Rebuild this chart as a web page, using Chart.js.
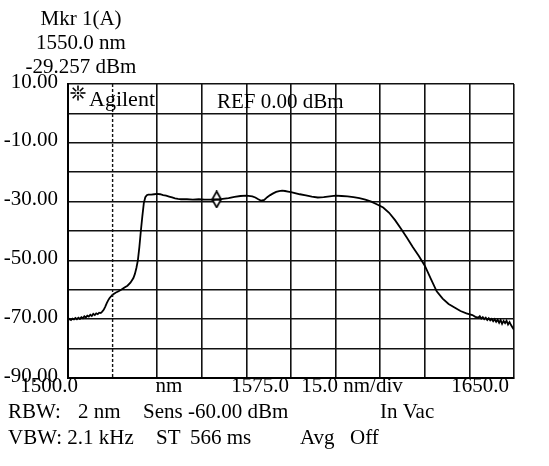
<!DOCTYPE html>
<html>
<head>
<meta charset="utf-8">
<script src="https://cdn.jsdelivr.net/npm/chart.js@4.4.1/dist/chart.umd.min.js"></script>
<style>
  body { margin: 0; background: #fff; }
  #wrap { width: 549px; height: 466px; }
</style>
</head>
<body>
<div id="wrap"><canvas id="osa" width="549" height="466"></canvas></div>
<script>
// trace (nm, dBm)
const wavelengthNm = [
  1500, 1500.5, 1501, 1501.5, 1502, 1502.5, 1503, 1503.5, 1504, 1504.5,
  1505, 1505.5, 1506, 1506.5, 1507, 1507.5, 1508, 1508.5, 1509, 1509.5,
  1510, 1510.5, 1511, 1511.5, 1512, 1512.5, 1513, 1513.5, 1514, 1514.5,
  1515, 1516, 1517, 1518, 1519, 1520, 1521, 1522, 1522.5, 1523,
  1523.5, 1524, 1524.5, 1525, 1525.5, 1526, 1526.5, 1527, 1528, 1529,
  1530, 1531, 1532, 1533, 1534, 1535, 1536, 1537, 1538, 1540,
  1542, 1544, 1546, 1548, 1549, 1550, 1551, 1552, 1554, 1556,
  1558, 1560, 1562, 1563, 1564, 1565, 1566, 1567, 1568, 1569,
  1570, 1571, 1572, 1573, 1574, 1575, 1576, 1578, 1580, 1582,
  1584, 1586, 1588, 1590, 1592, 1594, 1596, 1598, 1600, 1602,
  1604, 1606, 1608, 1610, 1612, 1614, 1616, 1618, 1620, 1622,
  1624, 1626, 1628, 1630, 1632, 1634, 1636, 1637, 1638, 1638.5,
  1639, 1639.5, 1640, 1640.5, 1641, 1641.5, 1642, 1642.5, 1643, 1643.5,
  1644, 1644.5, 1645, 1645.5, 1646, 1646.5, 1647, 1647.5, 1648, 1648.5,
  1649, 1649.5, 1650
];
const powerDbm = [
  -70.4, -69.9, -70.3, -69.8, -70.1, -69.6, -70.0, -69.5, -69.9, -69.3,
  -69.7, -69.0, -69.4, -68.8, -69.1, -68.5, -68.9, -68.2, -68.6, -68.0,
  -68.3, -67.8, -67.9, -67.4, -66.8, -65.8, -64.6, -63.6, -62.8, -62.2,
  -61.7, -61.0, -60.5, -59.9, -59.2, -58.6, -57.6, -56.0, -54.6, -52.6,
  -50.0, -45.5, -40.0, -35.0, -30.5, -28.5, -27.8, -27.6, -27.6, -27.5,
  -27.4, -27.5, -27.8, -28.0, -28.3, -28.6, -28.9, -29.1, -29.2, -29.2,
  -29.3, -29.2, -29.3, -29.3, -29.4, -29.3, -29.3, -29.1, -28.8, -28.4,
  -28.1, -28.0, -28.2, -28.6, -29.2, -29.7, -29.4, -28.5, -27.8, -27.2,
  -26.7, -26.4, -26.3, -26.4, -26.6, -26.8, -27.0, -27.5, -27.9, -28.3,
  -28.6, -28.5, -28.2, -28.0, -28.1, -28.2, -28.5, -28.8, -29.3, -30.0,
  -31.0, -32.0, -33.8, -36.3, -39.2, -42.3, -45.5, -48.5, -51.8, -56.2,
  -60.5, -63.0, -64.8, -66.0, -67.2, -68.0, -68.6, -69.2, -69.5, -69.0,
  -69.8, -69.3, -70.0, -69.5, -70.3, -69.7, -70.4, -69.9, -70.7, -70.0,
  -70.9, -70.2, -71.2, -70.3, -71.6, -70.6, -71.3, -70.5, -71.8, -71.0,
  -72.0, -72.8, -73.6
];
const markerNm = [1550.0];
const markerDbm = [-29.257];

const markerLines = ['Mkr 1(A)', '1550.0 nm', '-29.257 dBm'];
const headerText = ['Agilent', 'REF 0.00 dBm'];
const xAxisText = ['1500.0', 'nm', '1575.0', '15.0 nm/div', '1650.0'];
const footerRow1 = ['RBW:', '2 nm', 'Sens', '-60.00 dBm', 'In Vac'];
const footerRow2 = ['VBW: 2.1 kHz', 'ST', '566 ms', 'Avg', 'Off'];

const SERIF = '"Liberation Serif", "DejaVu Serif", serif';

// tall open diamond for the marker
const diamond = document.createElement('canvas');
diamond.width = 11; diamond.height = 18;
(function() {
    const c = diamond.getContext('2d');
    c.fillStyle = '#fff';
    c.strokeStyle = '#000';
    c.lineWidth = 1.7;
    c.beginPath();
    c.moveTo(5.5, 1); c.lineTo(10, 9); c.lineTo(5.5, 17); c.lineTo(1, 9); c.closePath();
    c.fill(); c.stroke();
    c.beginPath(); c.moveTo(1, 9); c.lineTo(10, 9); c.stroke();
})();

const textPlugin = {
    id: 'osaText',
    afterDraw(chart) {
        const ctx = chart.ctx;
        const xs = chart.scales.x;
        ctx.save();

        // dashed first division line
        ctx.strokeStyle = '#111';
        ctx.lineWidth = 1.4;
        ctx.setLineDash([3, 2]);
        const xd = xs.getPixelForValue(1515);
        ctx.beginPath();
        ctx.moveTo(xd, chart.chartArea.top);
        ctx.lineTo(xd, chart.chartArea.bottom);
        ctx.stroke();
        ctx.setLineDash([]);

        ctx.fillStyle = '#000';
        ctx.font = '21px ' + SERIF;
        ctx.textBaseline = 'alphabetic';

        ctx.textAlign = 'center';
        const mkY = [25, 49, 73];
        markerLines.forEach((t, i) => ctx.fillText(t, 81, mkY[i]));

        // Agilent spark
        const cx = 78, cy = 93;
        ctx.strokeStyle = '#000';
        ctx.lineWidth = 1.6;
        for (let k = 0; k < 8; k++) {
            const a = k * Math.PI / 4;
            ctx.beginPath();
            ctx.moveTo(cx + Math.cos(a) * 2.5, cy + Math.sin(a) * 2.5);
            ctx.lineTo(cx + Math.cos(a) * 7.5, cy + Math.sin(a) * 7.5);
            ctx.stroke();
        }
        ctx.beginPath();
        ctx.arc(cx, cy, 1.3, 0, Math.PI * 2);
        ctx.fill();

        ctx.font = '22px ' + SERIF;
        ctx.textAlign = 'left';
        ctx.fillText(headerText[0], 89, 106);
        ctx.font = '21px ' + SERIF;
        ctx.fillText(headerText[1], 217, 108);

        ctx.textAlign = 'center';
        const axX = [49, 169, 260, 352, 480];
        xAxisText.forEach((t, i) => ctx.fillText(t, axX[i], 392));

        ctx.textAlign = 'left';
        const r1X = [8, 78, 143, 188, 380];
        footerRow1.forEach((t, i) => ctx.fillText(t, r1X[i], 418));
        const r2X = [8, 156, 190, 300, 350];
        footerRow2.forEach((t, i) => ctx.fillText(t, r2X[i], 444));
        ctx.restore();
    }
};

new Chart(document.getElementById('osa'), {
    type: 'line',
    data: {
        datasets: [{
            data: wavelengthNm.map((w, i) => ({ x: w, y: powerDbm[i] })),
            borderColor: '#000',
            borderWidth: 1.8,
            pointRadius: 0,
            tension: 0
        }, {
            data: markerNm.map((w, i) => ({ x: w, y: markerDbm[i] })),
            showLine: false,
            pointStyle: diamond,
            pointRadius: 5
        }]
    },
    options: {
        responsive: false,
        animation: false,
        layout: { padding: { top: 84, right: 35, bottom: 0, left: 0 } },
        plugins: { legend: { display: false }, tooltip: { enabled: false } },
        scales: {
            x: {
                type: 'linear',
                min: 1500, max: 1650,
                ticks: { stepSize: 15, display: false },
                grid: {
                    drawTicks: false,
                    lineWidth: 1.6,
                    color: c => (c.tick && c.tick.value === 1515) ? 'rgba(0,0,0,0)' : '#111'
                },
                border: { color: '#000', width: 2 },
                afterFit: s => { s.height = 88; }
            },
            y: {
                min: -90, max: 10,
                ticks: {
                    stepSize: 10,
                    color: '#000',
                    padding: 10,
                    labelOffset: -2,
                    font: { family: SERIF, size: 21 },
                    callback: v => ((10 - v) % 20 === 0 ? v.toFixed(2) : '')
                },
                grid: { drawTicks: false, lineWidth: 1.6, color: '#111' },
                border: { color: '#000', width: 2 },
                afterFit: s => { s.width = 68; }
            }
        }
    },
    plugins: [textPlugin]
});
</script>
</body>
</html>
